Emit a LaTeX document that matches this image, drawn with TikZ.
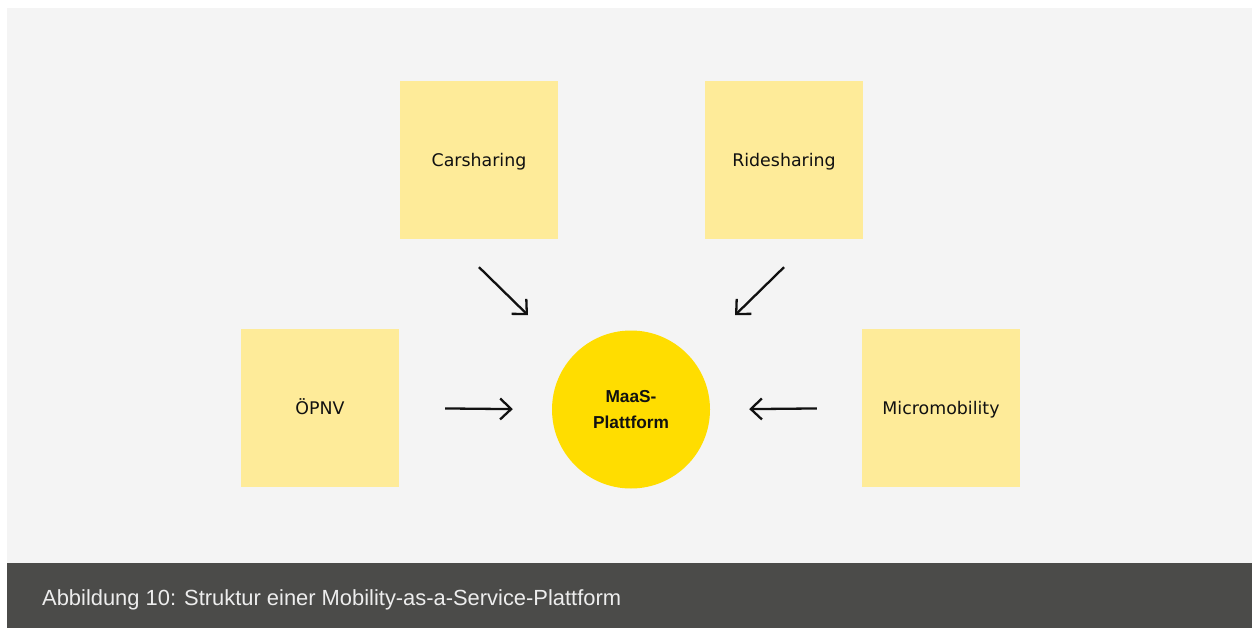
\documentclass[tikz,border=0pt]{standalone}
\usepackage{fontspec}
\setmainfont{DejaVu Sans}
\newfontfamily\headfont{Liberation Sans}
\newfontfamily\captionfont{Liberation Sans}
\usetikzlibrary{arrows.meta}

\definecolor{pagewhite}{HTML}{FFFFFF}
\definecolor{panelgray}{HTML}{F4F4F4}
\definecolor{modeyellow}{HTML}{FEEB99}
\definecolor{hubyellow}{HTML}{FFDD00}
\definecolor{bandgray}{HTML}{4B4B49}
\definecolor{captiontext}{HTML}{EDEDED}
\definecolor{inkblack}{HTML}{111111}

\tikzset{
  modebox/.style={rectangle, fill=modeyellow, draw=none, minimum width=158pt,
    minimum height=158pt, inner sep=0pt, text=inkblack,
    text height=12.6pt, text depth=0pt,
    font=\fontsize{17.4}{21}\selectfont},
  hub/.style={circle, fill=hubyellow, draw=none, minimum size=158pt, inner sep=0pt,
    text=inkblack, align=center,
    font=\headfont\bfseries\fontsize{17.3}{26}\selectfont},
  feed/.style={draw=inkblack, line width=2.3pt,
    -{Straight Barb[length=11pt,width=21pt,line width=2.3pt]}},
  captionstyle/.style={anchor=base west, inner sep=0pt, text=captiontext,
    font=\captionfont\fontsize{21.9}{26}\selectfont}
}

\begin{document}
\begin{tikzpicture}[x=1pt,y=-1pt]
  % page and panels
  \fill[pagewhite] (0,0) rectangle (1252,628);
  \useasboundingbox (0,0) rectangle (1252,628);
  \fill[panelgray] (6.5,8) rectangle (1252,563);
  \fill[bandgray] (6.5,563) rectangle (1252,628);

  % mobility services
  \node[modebox] (car)   at (479,160) {Carsharing};
  \node[modebox] (ride)  at (784,160) {Ridesharing};
  \node[modebox] (opnv)  at (320,408) {ÖPNV};
  \node[modebox] (micro) at (941,408) {Micromobility};

  % central platform
  \node[hub] (maas) at (631,409.5) {MaaS-\\Plattform};

  % arrow end points below the upper boxes
  \coordinate (carA)  at ([yshift=-28pt]car.south);
  \coordinate (carB)  at ([shift={(49pt,-76pt)}]car.south);
  \coordinate (rideA) at ([yshift=-28pt]ride.south);
  \coordinate (rideB) at ([shift={(-49pt,-76pt)}]ride.south);

  % connectors into the platform
  \draw[feed] (carA) -- (carB);
  \draw[feed] (rideA) -- (rideB);
  \draw[feed, shorten <=46pt, shorten >=39pt] (opnv.east) -- (maas.west);
  \draw[feed, shorten <=45pt, shorten >=39pt] (micro.west) -- (maas.east);

  % caption
  \node[captionstyle] (caption) at (42,605)
    {Abbildung 10: Struktur einer Mobility-as-a-Service-Plattform};
\end{tikzpicture}
\end{document}
